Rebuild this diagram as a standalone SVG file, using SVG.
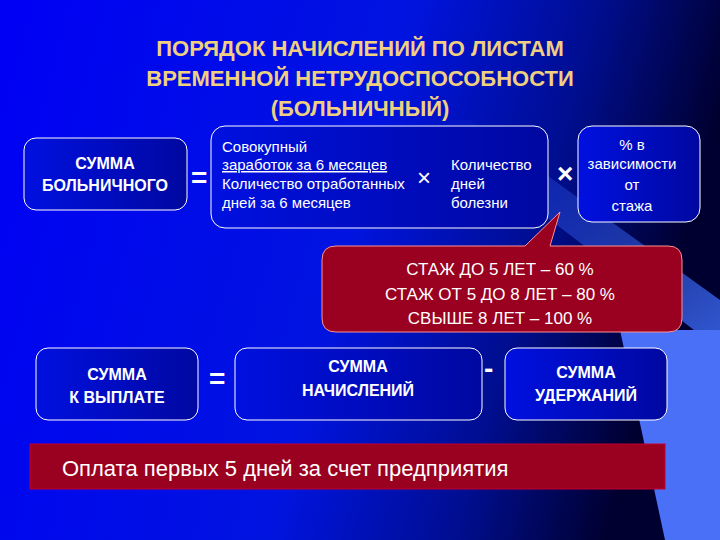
<svg xmlns="http://www.w3.org/2000/svg" width="720" height="540" viewBox="0 0 720 540">
<defs>
<linearGradient id="bg" x1="0" y1="0" x2="1" y2="0.2">
<stop offset="0" stop-color="#0000f5"/><stop offset="0.55" stop-color="#0014e0"/><stop offset="0.8" stop-color="#000e90"/><stop offset="1" stop-color="#000030"/>
</linearGradient>
<linearGradient id="band" x1="0" y1="0" x2="1" y2="1">
<stop offset="0" stop-color="#3060ff" stop-opacity="0"/><stop offset="1" stop-color="#4070ff" stop-opacity="0.8"/>
</linearGradient>
<linearGradient id="bx" x1="0" y1="0" x2="1" y2="0">
<stop offset="0" stop-color="#0010e0"/><stop offset="1" stop-color="#0008a0"/>
</linearGradient>
<style>
.box{fill:url(#bx);stroke:#ffffff;stroke-width:1}
.red{fill:#9a0020;stroke:#ff9090;stroke-width:1}
.w{fill:#fff;font-family:"Liberation Sans",sans-serif}
.b{font-weight:bold;font-size:16px}
.n{font-size:15px}
.t{fill:#f0d080;font-family:"Liberation Sans",sans-serif;font-weight:bold;font-size:22px}
.op{fill:#fff;font-family:"Liberation Sans",sans-serif;font-weight:bold;font-size:28px}
</style>
</defs>
<rect width="720" height="540" fill="url(#bg)"/>
<polygon points="420,120 470,120 720,300 720,350" fill="url(#band)"/>
<polygon points="620,330 720,330 720,540 665,540" fill="#4a70f8"/>
<text class="t" x="360" y="56" text-anchor="middle">ПОРЯДОК  НАЧИСЛЕНИЙ ПО ЛИСТАМ</text>
<text class="t" x="360" y="86" text-anchor="middle">ВРЕМЕННОЙ НЕТРУДОСПОСОБНОСТИ</text>
<text class="t" x="360" y="116" text-anchor="middle">(БОЛЬНИЧНЫЙ)</text>
<g id="n1"><rect class="box" x="24" y="138" width="163" height="72" rx="12"/>
<text class="w b" x="105" y="169" text-anchor="middle">СУММА</text>
<text class="w b" x="105" y="191" text-anchor="middle">БОЛЬНИЧНОГО</text></g>
<g id="n2"><rect class="box" x="211" y="126" width="337" height="102" rx="14"/>
<text class="w n" x="222" y="152">Совокупный</text>
<text class="w n" x="222" y="170" text-decoration="underline">заработок за 6 месяцев</text>
<text class="w n" x="222" y="189">Количество отработанных</text>
<text class="w n" x="222" y="208">дней за 6 месяцев</text>
<text class="w" x="417" y="186" font-size="24">×</text>
<text class="w n" x="451" y="170">Количество</text>
<text class="w n" x="451" y="189">дней</text>
<text class="w n" x="451" y="208">болезни</text></g>
<g id="n3"><rect class="box" x="578" y="126" width="122" height="96" rx="14"/>
<text class="w n" x="632" y="150" text-anchor="middle">% в</text>
<text class="w n" x="632" y="169" text-anchor="middle">зависимости</text>
<text class="w n" x="632" y="190" text-anchor="middle">от</text>
<text class="w n" x="632" y="211" text-anchor="middle">стажа</text></g>
<g id="n4"><path class="red" d="M336,246 L525,246 L560,212 L550,246 L668,246 Q682,246 682,260 L682,318 Q682,332 668,332 L336,332 Q322,332 322,318 L322,260 Q322,246 336,246 Z"/>
<text class="w" x="500" y="275" text-anchor="middle" font-size="17">СТАЖ ДО 5 ЛЕТ – 60 %</text>
<text class="w" x="500" y="300" text-anchor="middle" font-size="17">СТАЖ ОТ 5 ДО 8 ЛЕТ – 80 %</text>
<text class="w" x="500" y="324" text-anchor="middle" font-size="17">СВЫШЕ 8 ЛЕТ – 100 %</text></g>
<g id="n5"><rect class="box" x="36" y="348" width="162" height="72" rx="12"/>
<text class="w b" x="117" y="380" text-anchor="middle">СУММА</text>
<text class="w b" x="117" y="403" text-anchor="middle">К ВЫПЛАТЕ</text></g>
<g id="n6"><rect class="box" x="235" y="348" width="247" height="72" rx="12"/>
<text class="w b" x="358" y="372" text-anchor="middle">СУММА</text>
<text class="w b" x="358" y="396" text-anchor="middle">НАЧИСЛЕНИЙ</text></g>
<g id="n7"><rect class="box" x="505" y="348" width="162" height="72" rx="12"/>
<text class="w b" x="586" y="378" text-anchor="middle">СУММА</text>
<text class="w b" x="586" y="401" text-anchor="middle">УДЕРЖАНИЙ</text></g>
<g id="n8"><rect x="30" y="444" width="635" height="45" fill="#9a0020" stroke="#c00030"/>
<text class="w" x="62" y="476" font-size="22">Оплата первых 5 дней за счет предприятия</text></g>
<g id="connectors">
<text class="op" x="191" y="187">=</text>
<text class="op" x="557" y="183" font-size="26">×</text>
<text class="op" x="209" y="388">=</text>
<text class="op" x="484" y="378">-</text>
</g>
</svg>
